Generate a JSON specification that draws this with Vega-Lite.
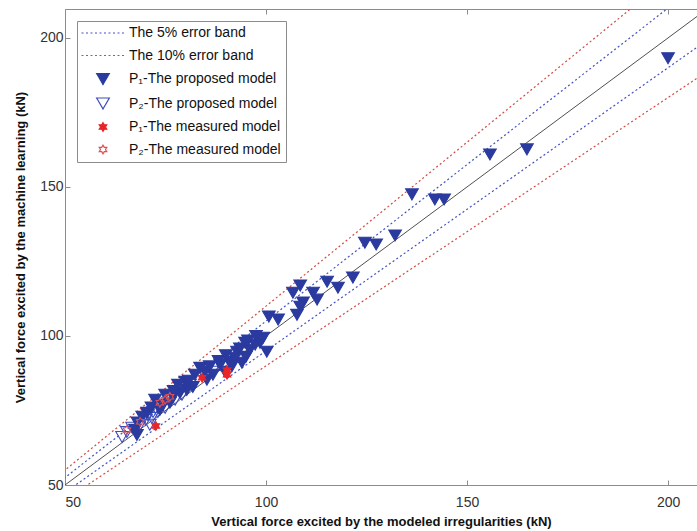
{
  "$schema": "https://vega.github.io/schema/vega-lite/v6.json",
  "width": 632,
  "height": 476,
  "autosize": {"type": "none"},
  "padding": {"left": 65, "top": 9, "right": 0, "bottom": 46},
  "background": "white",
  "config": {
    "view": {"stroke": null},
    "font": "Liberation Sans",
    "axis": {
      "domainColor": "#8c8c8c",
      "tickColor": "#8c8c8c",
      "labelColor": "#333333",
      "labelFont": "Liberation Sans",
      "labelFontSize": 14,
      "titleFont": "Liberation Sans",
      "titleFontSize": 13,
      "titleFontWeight": "bold",
      "titleColor": "#111111",
      "grid": false,
      "tickSize": -5
    },
    "legend": {
      "orient": "none",
      "legendX": 12,
      "legendY": 12,
      "labelFont": "Liberation Sans",
      "labelFontSize": 14,
      "labelColor": "#111111",
      "strokeColor": "#8c8c8c",
      "fillColor": "white",
      "padding": 5,
      "rowPadding": 8.5,
      "symbolOffset": 14,
      "labelOffset": 19,
      "symbolStrokeWidth": 1.2,
      "labelLimit": 400
    }
  },
  "datasets": {
    "lines": [
      {"series": "The 5% error band", "side": "upper", "x": 40, "y": 42},
      {"series": "The 5% error band", "side": "upper", "x": 220, "y": 231},
      {"series": "The 5% error band", "side": "lower", "x": 40, "y": 38},
      {"series": "The 5% error band", "side": "lower", "x": 220, "y": 209},
      {"series": "The 10% error band", "side": "upper", "x": 40, "y": 44},
      {"series": "The 10% error band", "side": "upper", "x": 220, "y": 242},
      {"series": "The 10% error band", "side": "lower", "x": 40, "y": 36},
      {"series": "The 10% error band", "side": "lower", "x": 220, "y": 198}
    ],
    "diag": [
      {"x": 40, "y": 40},
      {"x": 220, "y": 220}
    ],
    "points": [
      {"series": "P₂-The proposed model", "x": 64.2, "y": 66.1},
      {"series": "P₂-The proposed model", "x": 65.4, "y": 67.8},
      {"series": "P₂-The proposed model", "x": 66.7, "y": 69.2},
      {"series": "P₂-The proposed model", "x": 68.7, "y": 70.2},
      {"series": "P₂-The proposed model", "x": 70.1, "y": 71.8},
      {"series": "P₂-The proposed model", "x": 71.6, "y": 72.5},
      {"series": "P₂-The proposed model", "x": 71.1, "y": 70.2},
      {"series": "P₂-The proposed model", "x": 73.1, "y": 74.5},
      {"series": "P₂-The proposed model", "x": 74.9, "y": 75.9},
      {"series": "P₂-The proposed model", "x": 77.4, "y": 78.6},
      {"series": "P₂-The proposed model", "x": 79.1, "y": 80.3},
      {"series": "P₂-The proposed model", "x": 81.1, "y": 83.6},
      {"series": "P₂-The proposed model", "x": 86.6, "y": 88.0},
      {"series": "P₂-The proposed model", "x": 70.6, "y": 73.5},
      {"series": "P₂-The proposed model", "x": 71.9, "y": 74.5},
      {"series": "P₁-The proposed model", "x": 200.0, "y": 193.2},
      {"series": "P₁-The proposed model", "x": 164.9, "y": 162.6},
      {"series": "P₁-The proposed model", "x": 155.7, "y": 160.9},
      {"series": "P₁-The proposed model", "x": 144.3, "y": 145.8},
      {"series": "P₁-The proposed model", "x": 142.0, "y": 145.8},
      {"series": "P₁-The proposed model", "x": 136.3, "y": 147.5},
      {"series": "P₁-The proposed model", "x": 132.1, "y": 133.7},
      {"series": "P₁-The proposed model", "x": 127.4, "y": 130.7},
      {"series": "P₁-The proposed model", "x": 124.6, "y": 131.3},
      {"series": "P₁-The proposed model", "x": 121.6, "y": 119.6},
      {"series": "P₁-The proposed model", "x": 117.9, "y": 116.2},
      {"series": "P₁-The proposed model", "x": 115.2, "y": 118.2},
      {"series": "P₁-The proposed model", "x": 112.7, "y": 112.2},
      {"series": "P₁-The proposed model", "x": 111.7, "y": 114.5},
      {"series": "P₁-The proposed model", "x": 108.5, "y": 116.9},
      {"series": "P₁-The proposed model", "x": 106.7, "y": 114.5},
      {"series": "P₁-The proposed model", "x": 109.2, "y": 111.2},
      {"series": "P₁-The proposed model", "x": 108.5, "y": 109.8},
      {"series": "P₁-The proposed model", "x": 107.7, "y": 107.1},
      {"series": "P₁-The proposed model", "x": 100.7, "y": 106.5},
      {"series": "P₁-The proposed model", "x": 103.0, "y": 105.5},
      {"series": "P₁-The proposed model", "x": 99.3, "y": 99.4},
      {"series": "P₁-The proposed model", "x": 98.5, "y": 97.7},
      {"series": "P₁-The proposed model", "x": 96.0, "y": 95.4},
      {"series": "P₁-The proposed model", "x": 94.8, "y": 97.7},
      {"series": "P₁-The proposed model", "x": 92.8, "y": 94.7},
      {"series": "P₁-The proposed model", "x": 100.2, "y": 94.7},
      {"series": "P₁-The proposed model", "x": 91.0, "y": 91.3},
      {"series": "P₁-The proposed model", "x": 94.0, "y": 91.0},
      {"series": "P₁-The proposed model", "x": 88.6, "y": 90.3},
      {"series": "P₁-The proposed model", "x": 86.8, "y": 87.0},
      {"series": "P₁-The proposed model", "x": 83.6, "y": 89.3},
      {"series": "P₁-The proposed model", "x": 85.3, "y": 85.3},
      {"series": "P₁-The proposed model", "x": 81.8, "y": 82.9},
      {"series": "P₁-The proposed model", "x": 80.3, "y": 81.9},
      {"series": "P₁-The proposed model", "x": 78.6, "y": 80.9},
      {"series": "P₁-The proposed model", "x": 76.9, "y": 79.6},
      {"series": "P₁-The proposed model", "x": 76.1, "y": 77.6},
      {"series": "P₁-The proposed model", "x": 74.4, "y": 76.9},
      {"series": "P₁-The proposed model", "x": 73.6, "y": 75.2},
      {"series": "P₁-The proposed model", "x": 70.4, "y": 74.2},
      {"series": "P₁-The proposed model", "x": 69.2, "y": 72.9},
      {"series": "P₁-The proposed model", "x": 67.4, "y": 68.5},
      {"series": "P₁-The proposed model", "x": 67.9, "y": 66.8},
      {"series": "P₁-The proposed model", "x": 89.8, "y": 88.0},
      {"series": "P₁-The proposed model", "x": 92.3, "y": 92.7},
      {"series": "P₁-The proposed model", "x": 97.3, "y": 97.1},
      {"series": "P₁-The proposed model", "x": 84.8, "y": 88.0},
      {"series": "P₁-The proposed model", "x": 79.9, "y": 84.6},
      {"series": "P₁-The proposed model", "x": 82.3, "y": 87.0},
      {"series": "P₁-The proposed model", "x": 78.1, "y": 83.6},
      {"series": "P₁-The proposed model", "x": 74.9, "y": 80.3},
      {"series": "P₁-The proposed model", "x": 72.4, "y": 78.6},
      {"series": "P₁-The proposed model", "x": 77.0, "y": 81.5},
      {"series": "P₁-The proposed model", "x": 80.8, "y": 85.0},
      {"series": "P₁-The proposed model", "x": 86.0, "y": 89.8},
      {"series": "P₁-The proposed model", "x": 88.2, "y": 91.6},
      {"series": "P₁-The proposed model", "x": 90.0, "y": 93.5},
      {"series": "P₁-The proposed model", "x": 93.5, "y": 95.8},
      {"series": "P₁-The proposed model", "x": 95.5, "y": 98.5},
      {"series": "P₁-The proposed model", "x": 97.5, "y": 100.0},
      {"series": "P₁-The proposed model", "x": 91.5, "y": 89.8},
      {"series": "P₁-The proposed model", "x": 95.0, "y": 93.0},
      {"series": "P₁-The proposed model", "x": 71.5, "y": 76.0},
      {"series": "P₁-The proposed model", "x": 68.0, "y": 71.0},
      {"series": "P₁-The measured model", "x": 72.6, "y": 69.8},
      {"series": "P₁-The measured model", "x": 84.1, "y": 86.0},
      {"series": "P₁-The measured model", "x": 90.3, "y": 87.0},
      {"series": "P₁-The measured model", "x": 90.3, "y": 88.5},
      {"series": "P₂-The measured model", "x": 65.4, "y": 68.5},
      {"series": "P₂-The measured model", "x": 73.6, "y": 77.6},
      {"series": "P₂-The measured model", "x": 74.9, "y": 78.6},
      {"series": "P₂-The measured model", "x": 76.1, "y": 79.6},
      {"series": "P₂-The measured model", "x": 68.7, "y": 71.2}
    ]
  },
  "resolve": {"axis": {"x": "independent"}},
  "layer": [
    {
      "data": {"name": "diag"},
      "mark": {"type": "line", "clip": true, "color": "#505050", "strokeWidth": 1},
      "encoding": {
        "x": {"field": "x", "type": "quantitative", "scale": {"domain": [50, 207.2], "nice": false, "zero": false},
              "axis": {"orient": "top", "values": [50, 100, 150, 200], "labels": false, "title": null}},
        "y": {"field": "y", "type": "quantitative", "scale": {"domain": [50, 209.7], "nice": false, "zero": false},
              "axis": {"values": [50, 100, 150, 200], "labelPadding": 7, "title": "Vertical force excited by the machine learning (kN)", "titlePadding": 12}}
      }
    },
    {
      "data": {"name": "lines"},
      "mark": {"type": "line", "clip": true, "strokeWidth": 1.2},
      "encoding": {
        "x": {"field": "x", "type": "quantitative",
              "axis": {"values": [50, 100, 150, 200], "labelPadding": 15, "title": "Vertical force excited by the modeled irregularities (kN)", "titlePadding": 6}},
        "y": {"field": "y", "type": "quantitative"},
        "detail": {"field": "side"},
        "stroke": {"field": "series", "type": "nominal", "title": null,
          "scale": {"domain": ["The 5% error band", "The 10% error band", "P₁-The proposed model", "P₂-The proposed model", "P₁-The measured model", "P₂-The measured model"],
                    "range": ["#4452c0", "#d14b40", "#2a3a9e", "#3a4cc0", "#e8262a", "#e05050"]}},
        "strokeDash": {"field": "series", "type": "nominal", "title": null,
          "scale": {"domain": ["The 5% error band", "The 10% error band", "P₁-The proposed model", "P₂-The proposed model", "P₁-The measured model", "P₂-The measured model"],
                    "range": [[2, 2.5], [2, 2.5], [1, 0], [1, 0], [1, 0], [1, 0]]}}
      }
    },
    {
      "data": {"name": "points"},
      "mark": {"type": "point", "opacity": 1, "strokeWidth": 1.1},
      "encoding": {
        "x": {"field": "x", "type": "quantitative", "axis": null},
        "y": {"field": "y", "type": "quantitative"},
        "stroke": {"field": "series", "type": "nominal", "title": null},
        "fill": {"field": "series", "type": "nominal", "title": null,
          "scale": {"domain": ["The 5% error band", "The 10% error band", "P₁-The proposed model", "P₂-The proposed model", "P₁-The measured model", "P₂-The measured model"],
                    "range": ["transparent", "transparent", "#2a3a9e", "transparent", "#e8262a", "transparent"]}},
        "shape": {"field": "series", "type": "nominal", "title": null,
          "scale": {"domain": ["The 5% error band", "The 10% error band", "P₁-The proposed model", "P₂-The proposed model", "P₁-The measured model", "P₂-The measured model"],
                    "range": ["M-3.4,0L3.4,0", "M-3.4,0L3.4,0", "triangle-down", "triangle-down", "M0,-1L0.289,-0.5L0.866,-0.5L0.577,0L0.866,0.5L0.289,0.5L0,1L-0.289,0.5L-0.866,0.5L-0.577,0L-0.866,-0.5L-0.289,-0.5Z", "M0,-1L0.289,-0.5L0.866,-0.5L0.577,0L0.866,0.5L0.289,0.5L0,1L-0.289,0.5L-0.866,0.5L-0.577,0L-0.866,-0.5L-0.289,-0.5Z"]}},
        "size": {"field": "series", "type": "nominal", "title": null,
          "scale": {"type": "ordinal", "domain": ["The 5% error band", "The 10% error band", "P₁-The proposed model", "P₂-The proposed model", "P₁-The measured model", "P₂-The measured model"],
                    "range": [160, 160, 160, 160, 75, 75]}}
      }
    }
  ]
}
